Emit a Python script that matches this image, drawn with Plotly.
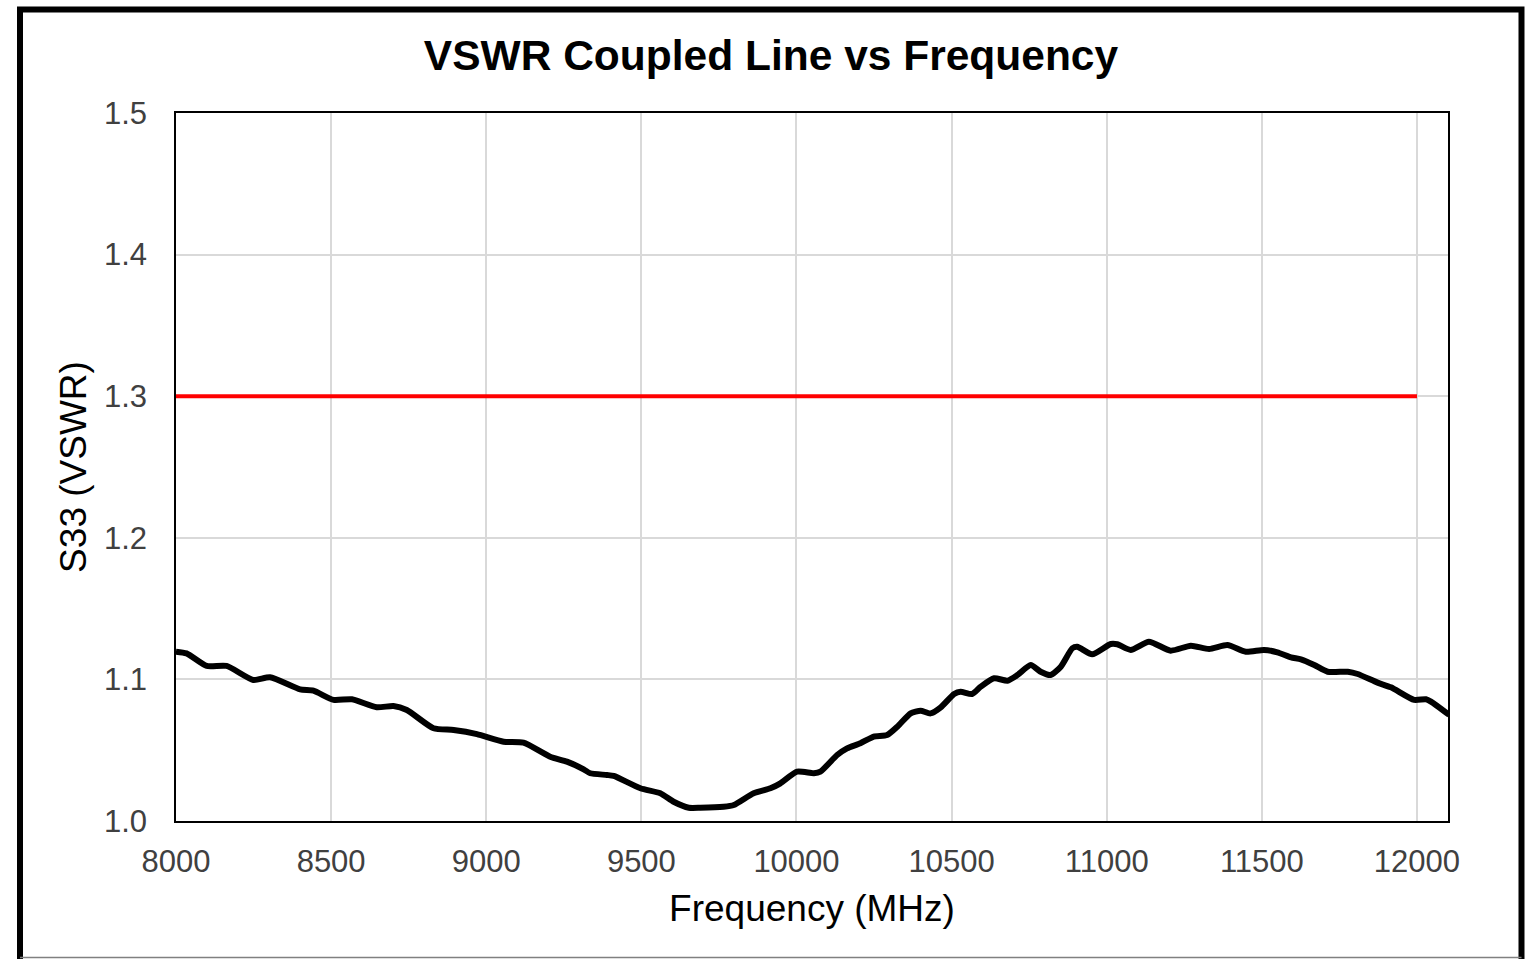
import plotly.graph_objects as go

# Measured VSWR curve (frequency in MHz, S33 VSWR)
freq_mhz = [8000, 8034, 8099, 8163, 8249, 8303, 8400, 8443, 8508, 8567, 8647, 8701, 8744,
            8830, 8895, 8970, 9056, 9120, 9206, 9260, 9314, 9335, 9389, 9411, 9497, 9561,
            9604, 9653, 9690, 9765, 9798, 9862, 9916, 9948, 10002, 10056, 10077, 10131,
            10163, 10206, 10249, 10292, 10325, 10368, 10400, 10432, 10465, 10508, 10529,
            10566, 10594, 10637, 10680, 10712, 10755, 10787, 10819, 10852, 10889, 10905,
            10953, 11013, 11034, 11077, 11136, 11206, 11271, 11330, 11389, 11448, 11507,
            11550, 11594, 11626, 11669, 11712, 11777, 11809, 11873, 11916, 11991, 12029,
            12045, 12104]
vswr = [1.1196, 1.1184, 1.1095, 1.1095, 1.0996, 1.1015, 1.0930, 1.0920, 1.0855, 1.0860,
        1.0803, 1.0812, 1.0784, 1.0655, 1.0643, 1.0614, 1.0560, 1.0553, 1.0454, 1.0419,
        1.0365, 1.0337, 1.0325, 1.0318, 1.0231, 1.0196, 1.0136, 1.0094, 1.0094, 1.0101,
        1.0113, 1.0196, 1.0231, 1.0266, 1.0348, 1.0337, 1.0348, 1.0466, 1.0513, 1.0549,
        1.0596, 1.0607, 1.0666, 1.0760, 1.0779, 1.0760, 1.0803, 1.0897, 1.0913, 1.0897,
        1.0949, 1.1008, 1.0991, 1.1031, 1.1102, 1.1054, 1.1031, 1.1090, 1.1220, 1.1231,
        1.1177, 1.1250, 1.1248, 1.1208, 1.1266, 1.1203, 1.1238, 1.1215, 1.1243, 1.1196,
        1.1208, 1.1191, 1.1156, 1.1142, 1.1102, 1.1054, 1.1054, 1.1038, 1.0977, 1.0944,
        1.0855, 1.0860, 1.0843, 1.0749]

# Specification limit
limit_freq = [8000, 12000]
limit_vswr = [1.3, 1.3]

x_ticks = [8000, 8500, 9000, 9500, 10000, 10500, 11000, 11500, 12000]
y_ticks = [1.0, 1.1, 1.2, 1.3, 1.4, 1.5]

fig = go.Figure()
fig.add_trace(go.Scatter(x=limit_freq, y=limit_vswr, mode="lines",
                         line=dict(color="#ff0000", width=4), showlegend=False))
fig.add_trace(go.Scatter(x=freq_mhz, y=vswr, mode="lines",
                         line=dict(color="#000000", width=6, shape="spline", smoothing=0.6),
                         showlegend=False))

fig.update_layout(
    width=1532, height=959,
    paper_bgcolor="white", plot_bgcolor="white",
    margin=dict(l=176, r=84, t=113, b=138, autoexpand=False),
    font=dict(family="Arial, Liberation Sans, sans-serif", color="#404040"),
    title=dict(text="<b>VSWR Coupled Line vs Frequency</b>", x=771/1532, xanchor="center",
               y=1 - 55/959, yanchor="middle", font=dict(size=42.5, color="#000000")),
    xaxis=dict(range=[8000, 12100], tickvals=x_ticks, tickformat="d", ticks="",
               ticklabelstandoff=12, tickfont=dict(size=31), showgrid=True,
               gridcolor="#d9d9d9", gridwidth=2, showline=True, linecolor="#000000",
               linewidth=1.5, mirror=True, zeroline=False,
               title=dict(text="Frequency (MHz)", font=dict(size=37, color="#000000"), standoff=17)),
    yaxis=dict(range=[1.0, 1.5], tickvals=y_ticks, tickformat=".1f", ticks="",
               ticklabelstandoff=21, tickfont=dict(size=31), showgrid=True,
               gridcolor="#d9d9d9", gridwidth=2, showline=True, linecolor="#000000",
               linewidth=1.5, mirror=True, zeroline=False,
               title=dict(text="S33 (VSWR)", font=dict(size=37, color="#000000"), standoff=6)),
    shapes=[
        dict(type="rect", xref="paper", yref="paper", x0=-0.12264, x1=1.05778,
             y0=-0.2048, y1=1.14619, line=dict(color="#000000", width=6), layer="above"),
        dict(type="line", xref="paper", yref="paper", x0=-0.12264, x1=1.05778,
             y0=-0.1928, y1=-0.1928, line=dict(color="#808080", width=1.5)),
    ],
)

fig.write_html("out.html", config={"displayModeBar": False},
               post_script="document.body.style.margin='0';document.body.style.overflow='hidden';")
